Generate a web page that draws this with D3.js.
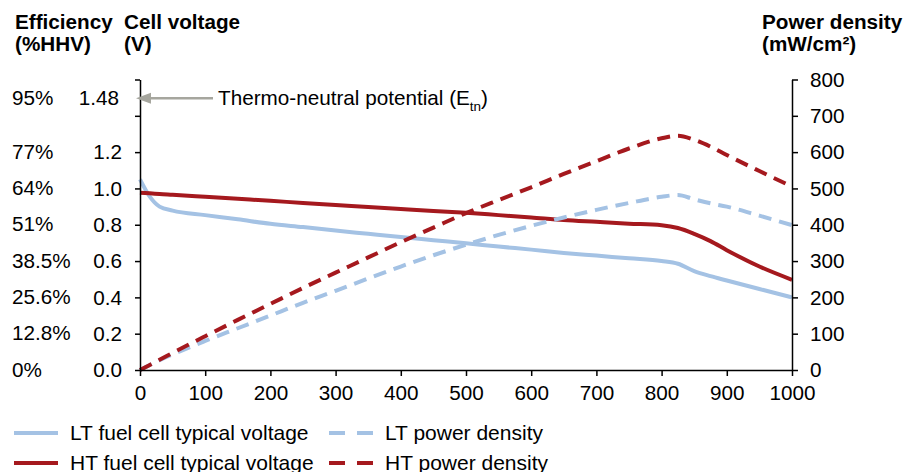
<!DOCTYPE html>
<html>
<head>
<meta charset="utf-8">
<script src="https://cdn.jsdelivr.net/npm/d3@7"></script>
<style>
  html, body { margin: 0; padding: 0; background: #ffffff; }
  svg { display: block; font-family: Arial, "Liberation Sans", sans-serif; }
</style>
</head>
<body>
<svg id="chart" width="908" height="472"></svg>
<script>
// ---- Data ----
const currentDensity = [0, 15, 30, 50, 100, 150, 200, 250, 300, 350, 400, 450, 500, 550, 600, 650, 700, 750, 800, 825, 850, 875, 900, 950, 1000];
const ltVoltage = [1.05, 0.955, 0.90, 0.878, 0.853, 0.83, 0.805, 0.787, 0.768, 0.75, 0.732, 0.715, 0.698, 0.68, 0.663, 0.645, 0.63, 0.615, 0.60, 0.585, 0.545, 0.517, 0.493, 0.446, 0.40];
const htVoltage = [0.976, 0.973, 0.969, 0.965, 0.954, 0.943, 0.932, 0.92, 0.909, 0.898, 0.887, 0.876, 0.866, 0.853, 0.84, 0.826, 0.816, 0.806, 0.797, 0.782, 0.75, 0.71, 0.66, 0.57, 0.497];
const ltPower = [0, 14, 27, 43, 80, 115, 150, 185, 218, 252, 285, 316, 345, 372, 397, 420, 441, 460, 477, 482, 470, 459, 450, 425, 399];
const htPower = [0, 14, 28, 47, 93, 138, 182, 226, 268, 310, 352, 392, 432, 468, 503, 540, 575, 610, 638, 645, 634, 615, 592, 548, 505];

const xTicks = [0, 100, 200, 300, 400, 500, 600, 700, 800, 900, 1000];
const voltageTicks = [0, 0.2, 0.4, 0.6, 0.8, 1.0, 1.2, 1.4, 1.6];
const voltageLabelled = [0, 0.2, 0.4, 0.6, 0.8, 1.0, 1.2];
const efficiencyLabels = ["0%", "12.8%", "25.6%", "38.5%", "51%", "64%", "77%"];
const thermoNeutralV = 1.48;
const thermoNeutralEff = "95%";
const powerTicks = [0, 100, 200, 300, 400, 500, 600, 700, 800];

const seriesList = [
  { name: "LT fuel cell typical voltage", values: ltVoltage, axis: "v", color: "#a4c2e4", dash: null },
  { name: "HT fuel cell typical voltage", values: htVoltage, axis: "v", color: "#a5191e", dash: null },
  { name: "LT power density", values: ltPower, axis: "p", color: "#a4c2e4", dash: "13,8" },
  { name: "HT power density", values: htPower, axis: "p", color: "#a5191e", dash: "13,8" }
];

// ---- Layout ----
const svg = d3.select("#chart");
const mLeft = 140, mRight = 792, mTop = 79.5, mBottom = 370;
const fs = 20.7;

const x = d3.scaleLinear().domain([0, 1000]).range([mLeft, mRight]);
const yV = d3.scaleLinear().domain([0, 1.6]).range([mBottom, mTop]);
const yP = d3.scaleLinear().domain([0, 800]).range([mBottom, mTop]);

// Lines
seriesList.forEach(s => {
  const yS = s.axis === "v" ? yV : yP;
  const line = d3.line()
    .x((d, j) => x(currentDensity[j]))
    .y(d => yS(d))
    .curve(d3.curveMonotoneX);
  svg.append("path")
    .datum(s.values)
    .attr("d", line)
    .attr("fill", "none")
    .attr("stroke", s.color)
    .attr("stroke-width", 4)
    .attr("stroke-dasharray", s.dash)
    .attr("stroke-linecap", "butt")
    .attr("stroke-linejoin", "round");
});

// Axes
const axisStyle = g => {
  g.selectAll(".domain").attr("stroke", "#000").attr("stroke-width", 1.5);
  g.selectAll(".tick line").attr("stroke", "#000").attr("stroke-width", 1.5);
  g.selectAll("text").attr("font-size", fs).attr("fill", "#000").attr("font-family", "Arial, 'Liberation Sans', sans-serif");
};

svg.append("g")
  .attr("transform", `translate(0,${mBottom})`)
  .call(d3.axisBottom(x).tickValues(xTicks).tickSize(6).tickSizeOuter(0).tickPadding(9).tickFormat(d3.format("d")))
  .call(axisStyle);

svg.append("g")
  .attr("transform", `translate(${mLeft},0)`)
  .call(d3.axisLeft(yV).tickValues(voltageTicks).tickSize(5).tickSizeOuter(0).tickPadding(13)
    .tickFormat(d => voltageLabelled.some(v => Math.abs(v - d) < 1e-9) ? d3.format(".1f")(d) : ""))
  .call(axisStyle);

svg.append("g")
  .attr("transform", `translate(${mRight},0)`)
  .call(d3.axisRight(yP).tickValues(powerTicks).tickSize(6).tickSizeOuter(0).tickPadding(12).tickFormat(d3.format("d")))
  .call(axisStyle);

// Efficiency labels
svg.append("g").selectAll("text")
  .data(voltageLabelled)
  .join("text")
  .attr("x", 12)
  .attr("y", d => yV(d))
  .attr("dy", "0.32em")
  .attr("font-size", fs)
  .text((d, i) => efficiencyLabels[i]);

const yTn = yV(thermoNeutralV) - 3;
svg.append("text").attr("x", 12).attr("y", yTn).attr("dy", "0.32em").attr("font-size", fs).text(thermoNeutralEff);
svg.append("text").attr("x", 119).attr("y", yTn).attr("dy", "0.32em").attr("font-size", fs)
  .attr("text-anchor", "end").text(d3.format(".2f")(thermoNeutralV));

// Thermo-neutral arrow
const arrowColor = "#a6a69e";
svg.append("line").attr("x1", 213).attr("x2", 146).attr("y1", yTn).attr("y2", yTn)
  .attr("stroke", arrowColor).attr("stroke-width", 2.5);
svg.append("path")
  .attr("d", `M136,${yTn} L151,${yTn - 5.5} L151,${yTn + 5.5} Z`)
  .attr("fill", arrowColor);
const tn = svg.append("text").attr("x", 218).attr("y", yTn).attr("dy", "0.32em").attr("font-size", fs);
tn.append("tspan").text("Thermo-neutral potential (E");
tn.append("tspan").attr("font-size", 13.5).attr("dy", "0.45em").text("tn");
tn.append("tspan").attr("dy", "-0.3em").text(")");

// Axis titles
const titles = [
  { x: 15, lines: ["Efficiency", "(%HHV)"] },
  { x: 124, lines: ["Cell voltage", "(V)"] },
  { x: 762, lines: ["Power density", "(mW/cm²)"] }
];
titles.forEach(t => {
  t.lines.forEach((ln, i) => {
    svg.append("text").attr("x", t.x).attr("y", 29 + i * 22)
      .attr("font-size", 20.7).attr("font-weight", "bold").text(ln);
  });
});

// Legend
const legendPos = [
  { x: 14, y: 433 },
  { x: 14, y: 463 },
  { x: 329, y: 433 },
  { x: 329, y: 463 }
];
seriesList.forEach((s, i) => {
  const p = legendPos[i];
  svg.append("line").attr("x1", p.x).attr("x2", p.x + 44).attr("y1", p.y).attr("y2", p.y)
    .attr("stroke", s.color).attr("stroke-width", 4)
    .attr("stroke-dasharray", s.dash ? "16,12" : null);
  svg.append("text").attr("x", p.x + 56).attr("y", p.y).attr("dy", "0.35em")
    .attr("font-size", 21).text(s.name);
});
</script>
</body>
</html>
